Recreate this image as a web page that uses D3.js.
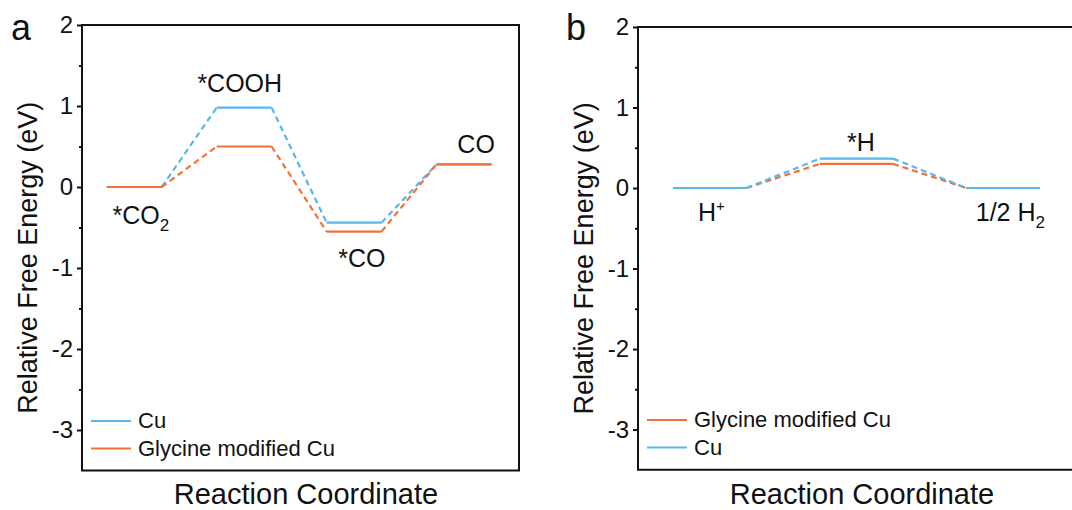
<!DOCTYPE html>
<html><head><meta charset="utf-8">
<script src="https://cdn.jsdelivr.net/npm/d3@7"></script>
<style>body{margin:0;background:#fff}svg{display:block;font-family:"Liberation Sans",Arial,sans-serif}</style>
</head><body>
<svg id="c" width="1072" height="510"></svg>
<script>
const stepsA = ["*CO2", "*COOH", "*CO", "CO"];
const cuA = [0, 0.98, -0.44, 0.28];
const glyA = [0, 0.50, -0.55, 0.28];
const stepsB = ["H+", "*H", "1/2 H2"];
const glyB = [0, 0.30, 0];
const cuB = [0, 0.365, 0];
const yTicks = [2, 1, 0, -1, -2, -3];
const BLUE = "#58b7ec", ORANGE = "#f0723a";
const FONT = "Liberation Sans, Arial, sans-serif";

const svg = d3.select("#c");

function panel(cfg) {
  const g = svg.append("g");
  const x = d3.scaleLinear().domain(cfg.xdom).range([cfg.left, cfg.right]);
  const y = d3.scaleLinear().domain([2, -3.5]).range([cfg.top, cfg.bottom]);
  // frame
  g.append("path")
    .attr("d", `M${cfg.left},${cfg.top}H${cfg.right}V${cfg.bottom}H${cfg.left}Z`)
    .attr("fill", "none").attr("stroke", "#111").attr("stroke-width", 2);
  // y axis
  const ax = g.append("g").attr("transform", `translate(${cfg.left},0)`)
    .call(d3.axisLeft(y).tickValues(yTicks).tickSize(5).tickPadding(4).tickFormat(d => String(d)));
  ax.select(".domain").remove();
  ax.selectAll("line").attr("stroke", "#111").attr("stroke-width", 2);
  ax.selectAll("text").attr("font-size", 24).attr("fill", "#111").attr("font-family", FONT);
  const mn = g.append("g").attr("transform", `translate(${cfg.left},0)`)
    .call(d3.axisLeft(y).tickValues([1.5, 0.5, -0.5, -1.5, -2.5]).tickSize(3).tickFormat(""));
  mn.select(".domain").remove();
  mn.selectAll("line").attr("stroke", "#111").attr("stroke-width", 2);

  // series
  cfg.series.forEach(s => {
    s.vals.forEach((v, i) => {
      g.append("line").attr("x1", x(2 * i)).attr("x2", x(2 * i + 1))
        .attr("y1", y(v)).attr("y2", y(v))
        .attr("stroke", s.color).attr("stroke-width", 2.2);
      if (i < s.vals.length - 1) {
        g.append("line").attr("x1", x(2 * i + 1)).attr("x2", x(2 * i + 2))
          .attr("y1", y(v)).attr("y2", y(s.vals[i + 1]))
          .attr("stroke", s.color).attr("stroke-width", 2.2)
          .attr("stroke-dasharray", "6,4");
      }
    });
  });

  // state labels
  cfg.labels.forEach(l => {
    const t = g.append("text").attr("x", x(l.xi)).attr("y", y(l.yv) + l.dy)
      .attr("font-size", 25).attr("fill", "#111").attr("text-anchor", "middle");
    l.parts.forEach(p => {
      const ts = t.append("tspan").text(p.t);
      if (p.sub) ts.attr("font-size", 17).attr("dy", 7);
      if (p.sup) ts.attr("font-size", 15).attr("dy", -10);
    });
  });

  // legend
  cfg.legend.forEach((L, i) => {
    const ly = cfg.legY + i * 27.5;
    g.append("line").attr("x1", cfg.left + 9).attr("x2", cfg.left + 49)
      .attr("y1", ly).attr("y2", ly).attr("stroke", L.color).attr("stroke-width", 2);
    g.append("text").attr("x", cfg.left + 56).attr("y", ly + 7)
      .attr("font-size", 22).attr("fill", "#111").text(L.name);
  });

  // axis titles
  g.append("text").attr("transform", `translate(${cfg.left - 45},${(cfg.top + cfg.bottom) / 2 + 10}) rotate(-90)`)
    .attr("text-anchor", "middle").attr("font-size", 27).attr("fill", "#111")
    .text("Relative Free Energy (eV)");
  g.append("text").attr("x", cfg.xtitleX).attr("y", 504)
    .attr("text-anchor", "middle").attr("font-size", 29).attr("fill", "#111")
    .text("Reaction Coordinate");
  g.append("text").attr("x", cfg.tagX).attr("y", 40)
    .attr("font-size", 36).attr("fill", "#111").text(cfg.tag);
}

panel({
  left: 82, right: 519, top: 25, bottom: 470.5,
  xdom: [-0.45, 7.5], tag: "a", tagX: 11, xtitleX: 306, legY: 421,
  series: [{ vals: cuA, color: BLUE }, { vals: glyA, color: ORANGE }],
  legend: [{ name: "Cu", color: BLUE }, { name: "Glycine modified Cu", color: ORANGE }],
  labels: [
    { xi: 0.62, yv: cuA[0], dy: 37, parts: [{ t: "*CO" }, { t: "2", sub: true }] },
    { xi: 2.42, yv: cuA[1], dy: -16, parts: [{ t: "*COOH" }] },
    { xi: 4.64, yv: glyA[2], dy: 35, parts: [{ t: "*CO" }] },
    { xi: 6.72, yv: cuA[3], dy: -11, parts: [{ t: "CO" }] }
  ]
});

panel({
  left: 638, right: 1080, top: 27, bottom: 469.8,
  xdom: [-0.48, 5.55], tag: "b", tagX: 566, xtitleX: 862, legY: 420,
  series: [{ vals: glyB, color: ORANGE }, { vals: cuB, color: BLUE }],
  legend: [{ name: "Glycine modified Cu", color: ORANGE }, { name: "Cu", color: BLUE }],
  labels: [
    { xi: 0.52, yv: 0, dy: 33, parts: [{ t: "H" }, { t: "+", sup: true }] },
    { xi: 2.56, yv: cuB[1], dy: -8, parts: [{ t: "*H" }] },
    { xi: 4.6, yv: 0, dy: 33, parts: [{ t: "1/2 H" }, { t: "2", sub: true }] }
  ]
});
</script>
</body></html>
